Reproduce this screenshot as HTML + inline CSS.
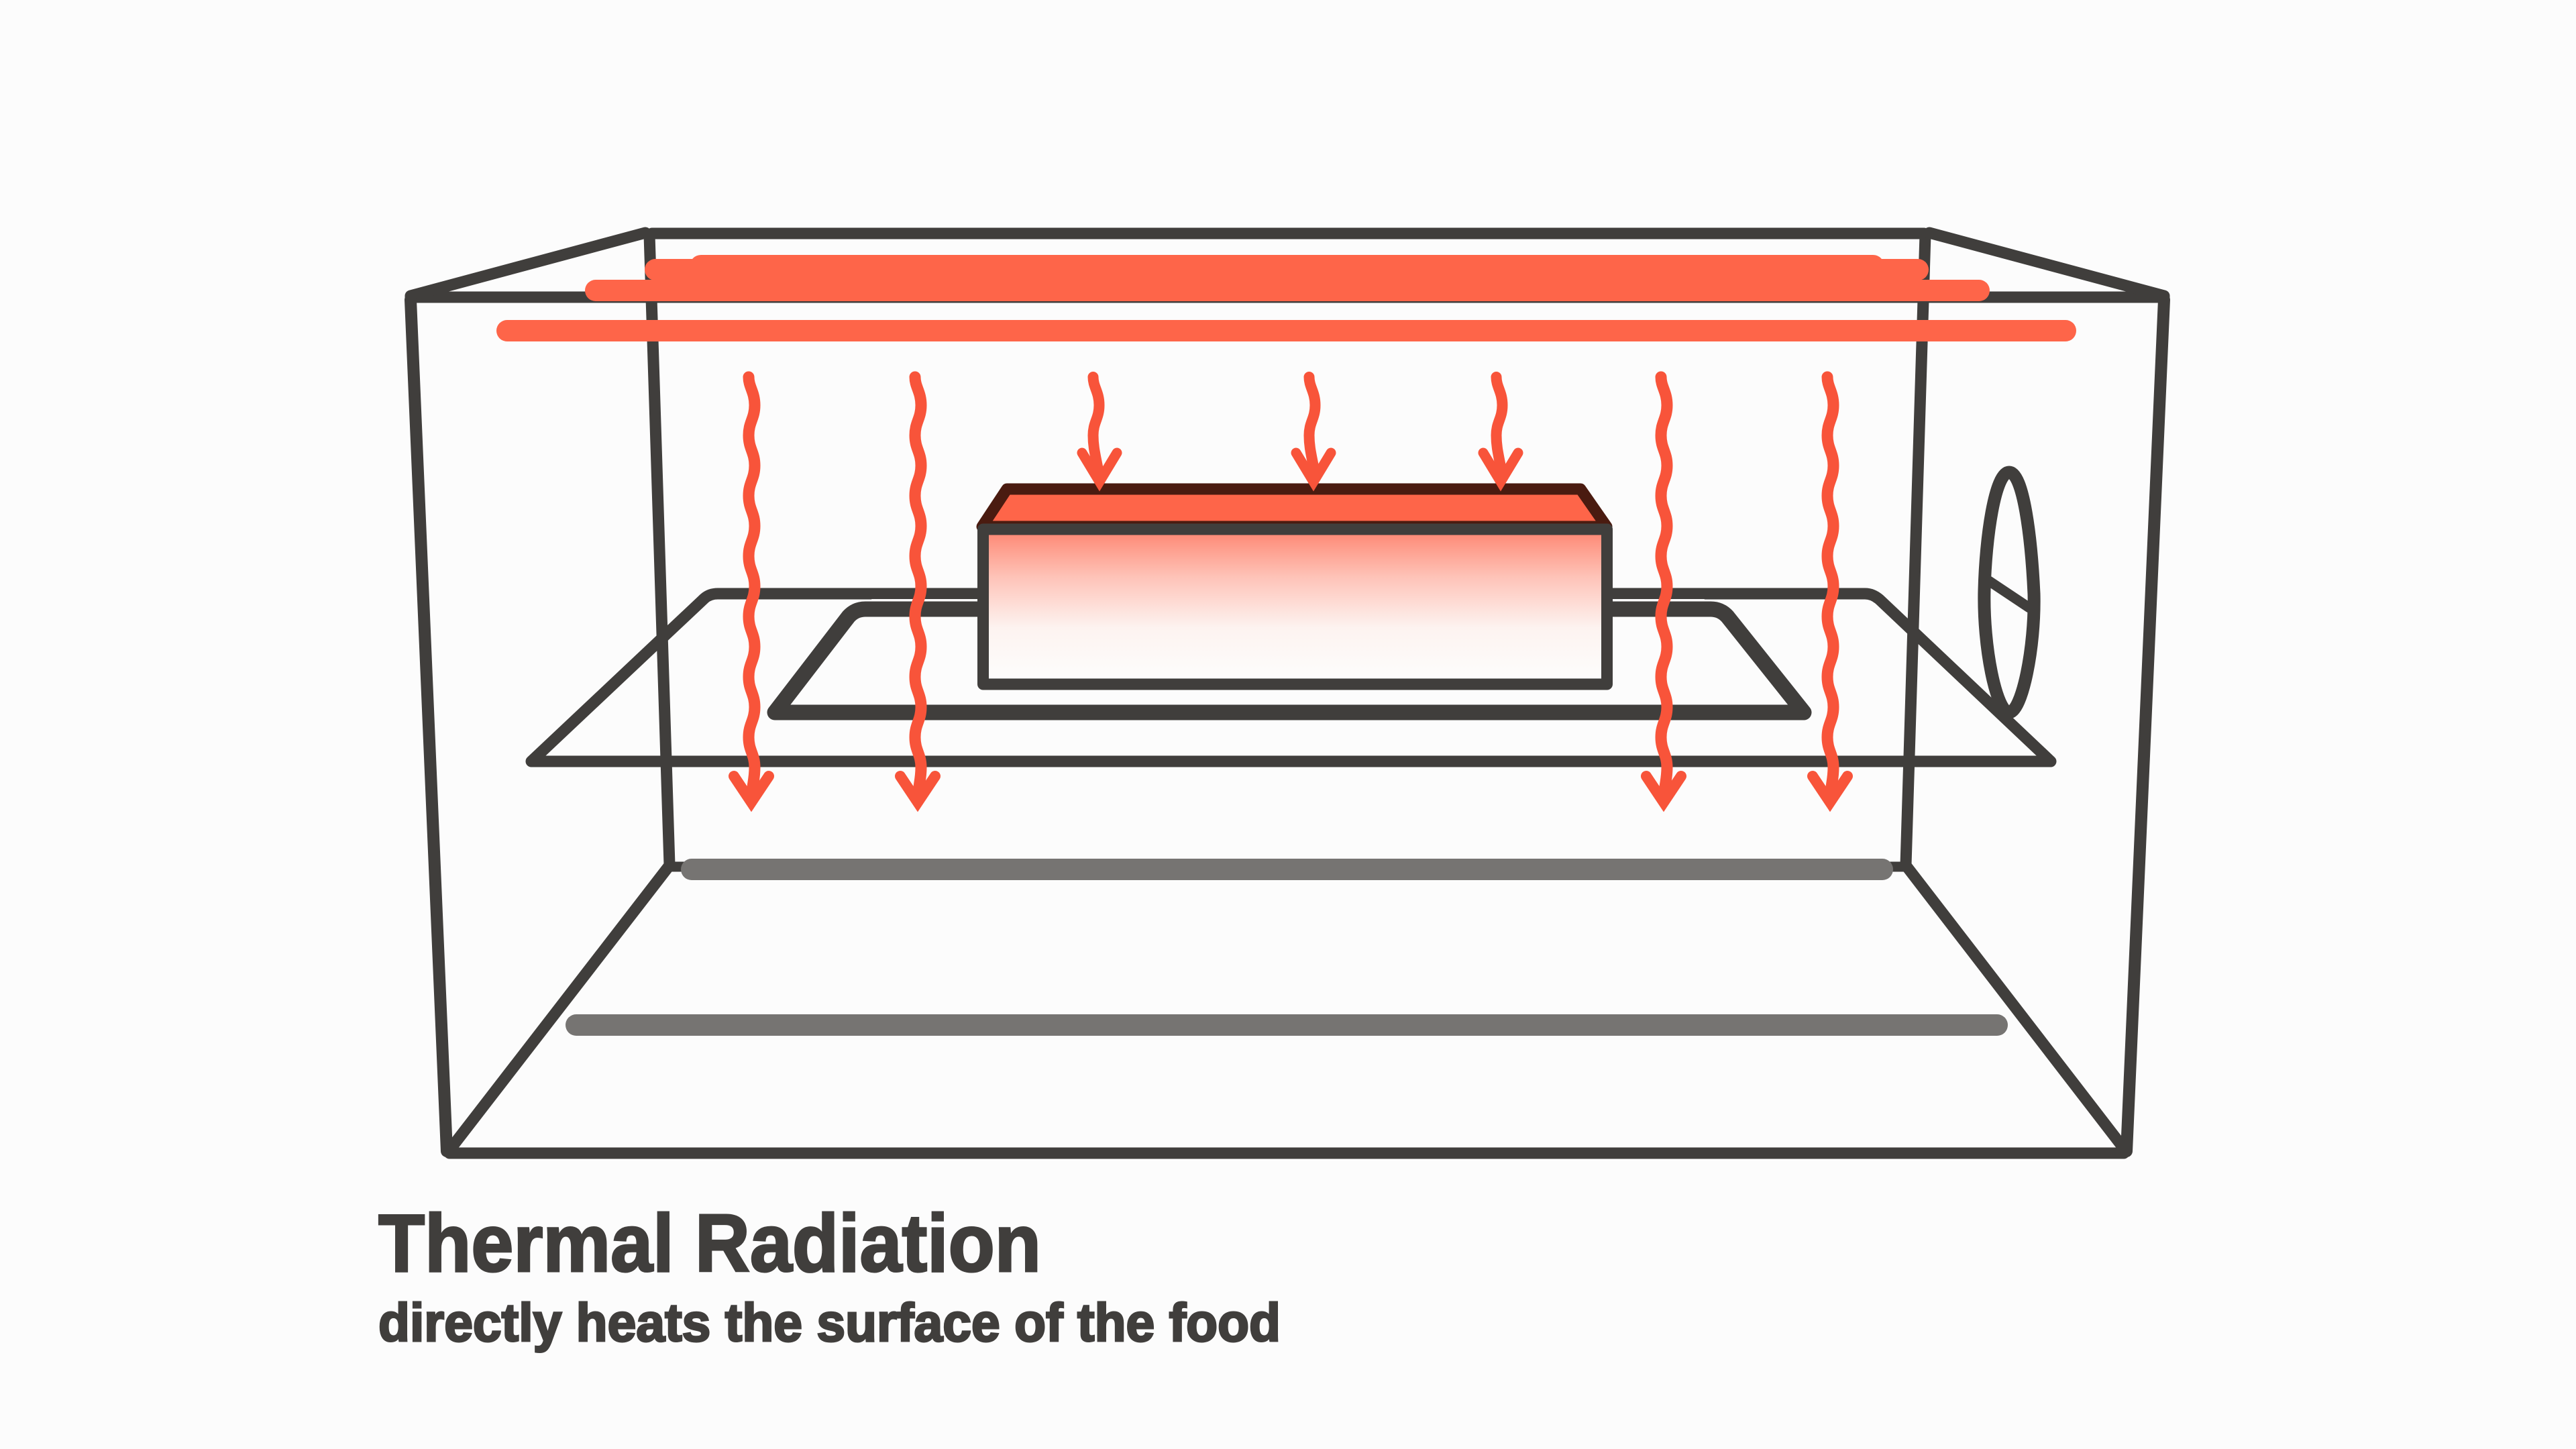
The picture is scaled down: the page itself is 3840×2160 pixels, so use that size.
<!DOCTYPE html>
<html lang="en">
<head>
<meta charset="utf-8">
<title>Thermal Radiation</title>
<style>
html,body{margin:0;padding:0;background:#fcfcfc;width:3840px;height:2160px;overflow:hidden}
svg{display:block}
</style>
</head>
<body>
<svg xmlns="http://www.w3.org/2000/svg" width="3840" height="2160" viewBox="0 0 3840 2160">
<defs>
<linearGradient id="g" x1="0" y1="795" x2="0" y2="1012" gradientUnits="userSpaceOnUse">
<stop offset="0" stop-color="#fe8a76"/>
<stop offset="0.3" stop-color="#fec3b8"/>
<stop offset="0.65" stop-color="#fdf3f0"/>
<stop offset="1" stop-color="#fdfdfc"/>
</linearGradient>
<path id="long" fill="none" stroke="#f8543a" stroke-width="17" stroke-linecap="round" stroke-linejoin="round" d="M-4.5 0C-4.5 15 4.5 22 4.5 42S-4.5 67-4.5 87S4.5 112 4.5 132S-4.5 157-4.5 177S4.5 202 4.5 222S-4.5 247-4.5 267S4.5 292 4.5 312S-4.5 337-4.5 357S4.5 382 4.5 402S-4.5 427-4.5 447S4.5 472 4.5 492S-4.5 517-4.5 537S4.5 562 4.5 582S0 610 0 630"/>
<path id="short" fill="none" stroke="#f8543a" stroke-width="16" stroke-linecap="round" stroke-linejoin="round" d="M-4.5 0C-4.5 15 4.5 22 4.5 42S-4.5 67-4.5 87S0 120 5 150"/>
<g id="longHead">
  <path fill="none" stroke="#f8543a" stroke-width="16" stroke-linecap="round" stroke-linejoin="miter" stroke-miterlimit="8" d="M-26 0L0 39L26 0"/>
  <path fill="#f8543a" d="M-14 19L14 19L0 39Z"/>
</g>
<g id="shortHead">
  <path fill="none" stroke="#f8543a" stroke-width="15" stroke-linecap="round" stroke-linejoin="miter" stroke-miterlimit="8" d="M-26 0L0 43L26 0"/>
  <path fill="#f8543a" d="M-14 20L14 20L0 43Z"/>
</g>
</defs>
<rect width="3840" height="2160" fill="#fcfcfc"/>

<g fill="none" stroke="#403e3c" stroke-linecap="round" stroke-linejoin="round">
  <!-- outer rack -->
  <path stroke-width="17" d="M792 1135L1050 892Q1058 885 1070 885L2780 885Q2792 885 2802 894L3057 1135Z" stroke-dasharray="none"/>
  <!-- gap between the rack rails -->
  <path stroke="#fcfcfc" stroke-width="3" d="M1300 894.5L2540 894.5"/>
  <!-- inner rack -->
  <path stroke-width="23" d="M1155 1062L1265 919Q1275 908 1290 908L2550 908Q2565 908 2575 919L2689 1062Z"/>
  <!-- back wall -->
  <path stroke-width="17" d="M972 348L2868 348"/>
  <path stroke-width="17" d="M968 350L998 1289"/>
  <path stroke-width="17" d="M2870 350L2841 1289"/>
  <path stroke-width="15" d="M998 1292L2841 1292"/>
  <!-- outer frame -->
  <path stroke-width="17" d="M612 443L3226 443"/>
  <path stroke-width="17" d="M612 441L962 347"/>
  <path stroke-width="17" d="M2876 347L3226 441"/>
  <path stroke-width="18" d="M612 447L666 1716"/>
  <path stroke-width="18" d="M3226 447L3170 1716"/>
  <path stroke-width="17" d="M670 1719L3166 1719"/>
  <path stroke-width="17" d="M998 1290L672 1712"/>
  <path stroke-width="17" d="M2841 1290L3166 1712"/>
  <!-- dial -->
  <path stroke-width="19" d="M2995 704C3016 704 3028 800 3032 885C3034 965 3014 1062 2995 1062C2976 1062 2956 965 2958 880C2960 800 2974 704 2995 704Z"/>
  <path stroke-width="15" d="M2965 866L3025 906"/>
</g>

<!-- heating elements -->
<g fill="none" stroke="#fe6549" stroke-linecap="round">
  <path stroke-width="34" d="M1045 397L2792 397"/>
  <path stroke-width="32" d="M977 402L2859 402"/>
  <path stroke-width="32" d="M888 433L2950 433"/>
  <rect x="980" y="395" width="1880" height="40" stroke="none" fill="#fe6549"/>
  <path stroke-width="32" d="M756 493L3079 493"/>
</g>

<!-- grey lower elements -->
<g fill="none" stroke="#767472" stroke-linecap="round">
  <path stroke-width="32" d="M1031 1296L2806 1296"/>
  <path stroke-width="32" d="M859 1528L2977 1528"/>
</g>

<!-- food -->
<path d="M1501 729L2356 729L2395 785L1464 785Z" fill="#fe6549" stroke="#4a1b10" stroke-width="17" stroke-linejoin="round"/>
<rect x="1465.5" y="789" width="930" height="231" fill="url(#g)" stroke="#403e3c" stroke-width="17" stroke-linejoin="round"/>

<!-- radiation arrows -->
<use href="#long" x="1120.5" y="562"/><use href="#longHead" x="1120" y="1157"/>
<use href="#long" x="1368.5" y="562"/><use href="#longHead" x="1368" y="1157"/>
<use href="#long" x="2480.5" y="562"/><use href="#longHead" x="2480" y="1157"/>
<use href="#long" x="2728.5" y="562"/><use href="#longHead" x="2728" y="1157"/>
<use href="#short" x="1634" y="562"/><use href="#shortHead" x="1639" y="675"/>
<use href="#short" x="1956" y="562"/><use href="#shortHead" x="1958" y="675"/>
<use href="#short" x="2235" y="562"/><use href="#shortHead" x="2237" y="675"/>

<!-- text -->
<text x="564" y="1895" font-family="'Liberation Sans',sans-serif" font-weight="700" font-size="122" fill="#403e3c" stroke="#403e3c" stroke-width="3" textLength="988" lengthAdjust="spacingAndGlyphs">Thermal Radiation</text>
<text x="564" y="1999" font-family="'Liberation Sans',sans-serif" font-weight="700" font-size="80" fill="#403e3c" stroke="#403e3c" stroke-width="3" textLength="1345" lengthAdjust="spacingAndGlyphs">directly heats the surface of the food</text>
</svg>
</body>
</html>
